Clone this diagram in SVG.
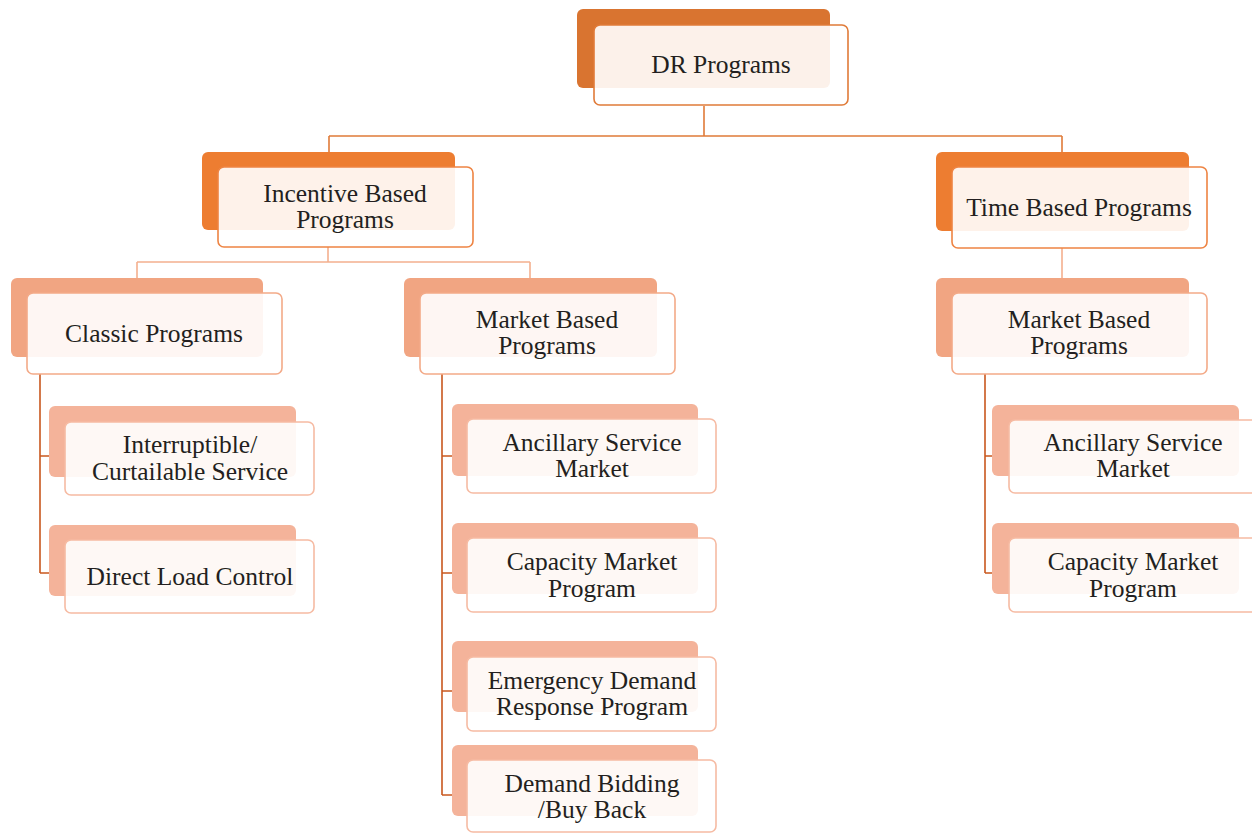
<svg xmlns="http://www.w3.org/2000/svg" width="1252" height="833" viewBox="0 0 1252 833">
<style>
text{font-family:"Liberation Serif","Times New Roman",serif;font-size:25.5px;fill:#231F20;text-anchor:middle}
.f{fill:#FFFFFF;fill-opacity:0.9;stroke-width:1.6}
.c{fill:none;stroke-width:1.6}
</style>
<rect width="1252" height="833" fill="#FFFFFF"/>
<g id="connectors">
<path class="c" stroke="#E07B39" d="M704 106V136M329 136H1062M329 136V152M1062 136V152"/>
<path class="c" stroke="#F4B08E" d="M328 247V262M137 262H530M137 262V278M530 262V278M1062 248V278"/>
<path class="c" stroke="#C9581E" d="M40 374V573M40 456H65M40 573H65"/>
<path class="c" stroke="#C9581E" d="M442 374V795M442 456H467M442 573H467M442 691H467M442 795H467"/>
<path class="c" stroke="#C9581E" d="M985 374V573M985 456H1009M985 573H1009"/>
</g>
<g id="dr">
<rect x="577" y="9" width="253" height="79" rx="6" fill="#D97430"/>
<rect class="f" x="594" y="25" width="254" height="80" rx="6" stroke="#E07B39"/>
<text x="721" y="73">DR Programs</text>
</g>
<g id="incentive">
<rect x="202" y="152" width="253" height="78" rx="6" fill="#ED7D31"/>
<rect class="f" x="218" y="167" width="255" height="80" rx="6" stroke="#EE8443"/>
<text x="345" y="202">Incentive Based</text>
<text x="345" y="228">Programs</text>
</g>
<g id="time">
<rect x="936" y="152" width="253" height="79" rx="6" fill="#ED7D31"/>
<rect class="f" x="952" y="167" width="255" height="81" rx="6" stroke="#EE8443"/>
<text x="1079" y="216">Time Based Programs</text>
</g>
<g id="classic">
<rect x="11" y="278" width="252" height="79" rx="6" fill="#F1A582"/>
<rect class="f" x="27" y="293" width="255" height="81" rx="6" stroke="#F3AA88"/>
<text x="154" y="342">Classic Programs</text>
</g>
<g id="market1">
<rect x="404" y="278" width="253" height="79" rx="6" fill="#F1A582"/>
<rect class="f" x="420" y="293" width="255" height="81" rx="6" stroke="#F3AA88"/>
<text x="547" y="328">Market Based</text>
<text x="547" y="354">Programs</text>
</g>
<g id="market2">
<rect x="936" y="278" width="253" height="79" rx="6" fill="#F1A582"/>
<rect class="f" x="952" y="293" width="255" height="81" rx="6" stroke="#F3AA88"/>
<text x="1079" y="328">Market Based</text>
<text x="1079" y="354">Programs</text>
</g>
<g id="interruptible">
<rect x="49" y="406" width="247" height="71" rx="6" fill="#F4B39A"/>
<rect class="f" x="65" y="422" width="249" height="73" rx="6" stroke="#F6BBA3"/>
<text x="190" y="453">Interruptible/</text>
<text x="190" y="480">Curtailable Service</text>
</g>
<g id="directload">
<rect x="49" y="525" width="247" height="71" rx="6" fill="#F4B39A"/>
<rect class="f" x="65" y="540" width="249" height="73" rx="6" stroke="#F6BBA3"/>
<text x="190" y="585">Direct Load Control</text>
</g>
<g id="ancillary1">
<rect x="452" y="404" width="246" height="72" rx="6" fill="#F4B39A"/>
<rect class="f" x="467" y="419" width="249" height="74" rx="6" stroke="#F6BBA3"/>
<text x="592" y="451">Ancillary Service</text>
<text x="592" y="477">Market</text>
</g>
<g id="capacity1">
<rect x="452" y="523" width="246" height="71" rx="6" fill="#F4B39A"/>
<rect class="f" x="467" y="538" width="249" height="74" rx="6" stroke="#F6BBA3"/>
<text x="592" y="570">Capacity Market</text>
<text x="592" y="597">Program</text>
</g>
<g id="emergency">
<rect x="452" y="641" width="246" height="71" rx="6" fill="#F4B39A"/>
<rect class="f" x="467" y="657" width="249" height="74" rx="6" stroke="#F6BBA3"/>
<text x="592" y="689">Emergency Demand</text>
<text x="592" y="715">Response Program</text>
</g>
<g id="bidding">
<rect x="452" y="745" width="246" height="71" rx="6" fill="#F4B39A"/>
<rect class="f" x="467" y="760" width="249" height="72" rx="6" stroke="#F6BBA3"/>
<text x="592" y="792">Demand Bidding</text>
<text x="592" y="818">/Buy Back</text>
</g>
<g id="ancillary2">
<rect x="992" y="405" width="247" height="71" rx="6" fill="#F4B39A"/>
<rect class="f" x="1009" y="420" width="256" height="73" rx="6" stroke="#F6BBA3"/>
<text x="1133" y="451">Ancillary Service</text>
<text x="1133" y="477">Market</text>
</g>
<g id="capacity2">
<rect x="992" y="523" width="247" height="71" rx="6" fill="#F4B39A"/>
<rect class="f" x="1009" y="538" width="256" height="74" rx="6" stroke="#F6BBA3"/>
<text x="1133" y="570">Capacity Market</text>
<text x="1133" y="597">Program</text>
</g>
</svg>
